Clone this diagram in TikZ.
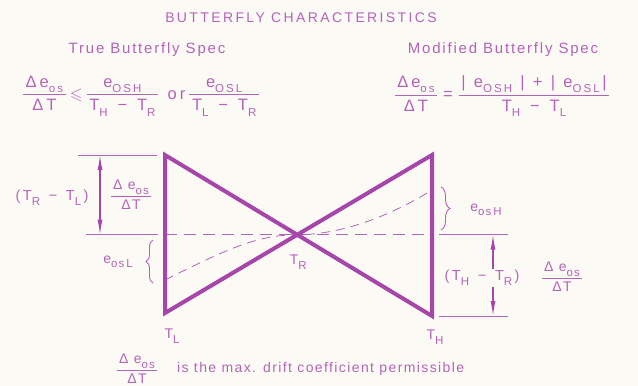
\documentclass[tikz,border=0pt]{standalone}
\usepackage{amssymb}
\usepackage{fontspec}
\setmainfont[LetterSpace=10]{Liberation Sans}
\newfontfamily\specfont[LetterSpace=12]{Liberation Sans}
\newfontfamily\widefont[LetterSpace=17]{Liberation Sans}
\newfontfamily\eqfont[LetterSpace=18]{Liberation Sans}
\usetikzlibrary{arrows.meta, positioning, calc, decorations.pathreplacing}
\definecolor{paper}{RGB}{251,250,244}
\definecolor{ink}{RGB}{180,100,184}
\definecolor{wing}{RGB}{166,70,170}
\newcommand{\lo}[1]{\raisebox{-0.32em}{\fontsize{11.5}{12}\selectfont #1}}
\newcommand{\fr}[2]{$\displaystyle\frac{\mbox{\,#1\,}}{\mbox{\,#2\,}}$}
\newcommand{\mi}{\hspace{0.6em}−\hspace{0.6em}}
\tikzset{
    >={Latex[length=15pt,width=5pt]},
    lbl/.style={text=ink, font=\fontsize{14}{16}\selectfont, inner sep=1pt},
    dim/.style={lbl, font=\eqfont\fontsize{14.5}{16}\selectfont},
    eq/.style={lbl, font=\eqfont\fontsize{16.5}{18}\selectfont},
    spec/.style={lbl, font=\specfont\fontsize{15}{17}\selectfont},
    head/.style={lbl, font=\widefont\fontsize{14}{16}\selectfont},
    wingline/.style={draw=wing, line width=4pt},
    thinline/.style={draw=ink, line width=1pt},
    dimline/.style={draw=wing, line width=1.2pt},
    brc/.style={draw=ink, line width=0.9pt, decorate, decoration={brace, amplitude=#1}},
}
\begin{document}
\begin{tikzpicture}[x=1pt, y=-1pt]
    \fill[paper] (0,0) rectangle (638,386);

    \node[head] (title) at (301,18) {BUTTERFLY CHARACTERISTICS};
    \node[spec] (truespec) at (147,50) {True Butterfly Spec};
    \node[spec] (modspec) at (503,50) {Modified Butterfly Spec};
    \node[eq] (trueeq) at (141,96) {\fr{Δe\lo{os}}{ΔT}\,$\leqslant$\,\fr{e\lo{OSH}}{T\lo{H}\mi T\lo{R}}\enspace or\,\fr{e\lo{OSL}}{T\lo{L}\mi T\lo{R}}};
    \node[eq] (modeq) at (502,96) {\fr{Δe\lo{os}}{ΔT}\;=\;\fr{|\enspace e\lo{OSH}\enspace|\enspace+\enspace|\enspace e\lo{OSL}\,|}{T\lo{H}\mi T\lo{L}}};

    \coordinate (lt) at (165,155);
    \coordinate (lb) at (165,313);
    \coordinate (rt) at (432,155);
    \coordinate (rb) at (432,316);
    \coordinate (tr) at (intersection of lt--rb and lb--rt);

    % extension lines and zero line
    \draw[thinline] ($(lt)+(-87,0)$) -- ($(lt)+(-8,0)$);
    \draw[thinline] ($(lt |- tr)+(-79,0)$) -- ($(lt |- tr)+(-7,0)$);
    \draw[thinline] ($(rt |- tr)+(7,0)$) -- ($(rt |- tr)+(76,0)$);
    \draw[thinline] ($(rb)+(7,0)$) -- ($(rb)+(76,0)$);
    \draw[thinline, dash pattern=on 12pt off 7pt] (lt |- tr) -- (rt |- tr);

    % drift curve
    \draw[thinline, line width=0.8pt, dash pattern=on 9pt off 6pt]
        ($(lb)+(0,-33)$) .. controls +(60,-30) and +(-40,0) .. (tr)
        .. controls +(45,0) and +(-40,25) .. (432,190);

    \draw[wingline] (lt) -- (rb) -- (rt) -- (lb) -- cycle;

    \node[lbl, below=19pt of tr, xshift=1pt] (tR) {T\lo{R}};
    \node[lbl, below=15pt of lb, xshift=7pt] (tL) {T\lo{L}};
    \node[lbl, below=13pt of rb, xshift=3pt] (tH) {T\lo{H}};

    % left dimension
    \coordinate (ldim) at (100,155);
    \draw[dimline, <->] (ldim) -- (ldim |- tr);
    \node[dim] (trtl) at (52,198) {(T\lo{R}\mi T\lo{L}\,)};
    \node[lbl] (lfrac) at (131,195) {\fr{Δ e\lo{os}}{ΔT}};

    % right dimension
    \coordinate (rdim) at (493,0);
    \node[dim] (thtr) at (482,278) {(T\lo{H}\mi T\lo{R}\,)};
    \draw[dimline, ->] (thtr.north -| rdim) -- (rdim |- tr);
    \draw[dimline, ->] (thtr.south -| rdim) -- (rdim |- rb);
    \node[lbl] (rfrac) at (562,277) {\fr{Δ e\lo{os}}{ΔT}};

    % offsets
    \draw[brc=7pt] (153,283) -- (153,240);
    \node[lbl] (eosl) at (118,262) {e\lo{os\,L}};
    \draw[brc=9pt] (441,187) -- (441,230);
    \node[lbl] (eosh) at (486,210) {e\lo{os\,H}};

    \node[lbl] (bfrac) at (137,369) {\fr{Δ e\lo{os}}{ΔT}};
    \node[lbl, anchor=west] (note) at (176,369) {is the max. drift coefficient permissible};
\end{tikzpicture}
\end{document}
